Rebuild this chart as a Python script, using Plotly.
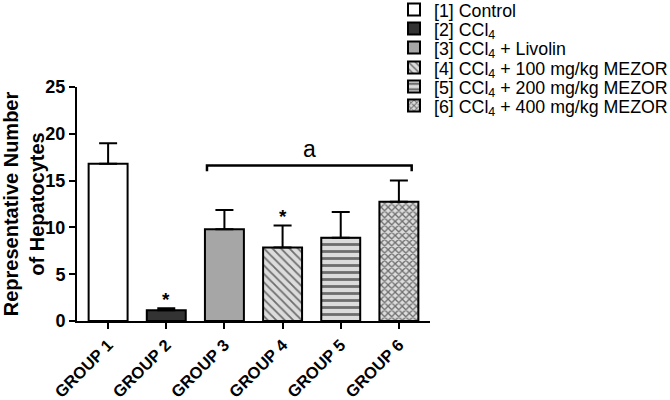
import plotly.graph_objects as go

groups = ["GROUP 1", "GROUP 2", "GROUP 3", "GROUP 4", "GROUP 5", "GROUP 6"]
means = [16.8, 1.15, 9.8, 7.85, 8.9, 12.75]
errors = [2.2, 0.2, 2.05, 2.35, 2.75, 2.25]
legend_names = [
    "[1] Control",
    "[2] CCl<sub>4</sub>",
    "[3] CCl<sub>4</sub> + Livolin",
    "[4] CCl<sub>4</sub> + 100 mg/kg MEZOR",
    "[5] CCl<sub>4</sub> + 200 mg/kg MEZOR",
    "[6] CCl<sub>4</sub> + 400 mg/kg MEZOR",
]
fills = ["#ffffff", "#333333", "#a6a6a6", "#dcdcdc", "#dcdcdc", "#dcdcdc"]
patterns = ["", "", "", "\\", "-", "x"]
pattern_sizes = [0, 0, 0, 6, 7, 5]
pattern_solidity = [0, 0, 0, 0.3, 0.4, 0.45]
star_groups = [1, 3]

FONT = "Arial, Liberation Sans, sans-serif"
W, H = 670, 400
legend_rows_px = [10, 29, 48, 68, 87, 106]

fig = go.Figure()
layout_legends = {}
for i, g in enumerate(groups):
    pat = dict(shape=patterns[i], fgcolor="#000000", bgcolor=fills[i],
               size=pattern_sizes[i], solidity=pattern_solidity[i],
               fillmode="overlay") if patterns[i] else dict(shape="")
    lname = "legend" if i == 0 else f"legend{i+1}"
    fig.add_trace(go.Bar(
        x=[g], y=[means[i]], name=legend_names[i], width=0.67, legend=lname,
        marker=dict(color=fills[i], line=dict(color="#000000", width=2), pattern=pat),
        error_y=dict(type="data", array=[errors[i]], arrayminus=[0], symmetric=False,
                     color="#000000", thickness=2, width=9),
    ))
    layout_legends[lname] = dict(
        xref="container", yref="container", x=394 / W, y=1 - legend_rows_px[i] / H,
        xanchor="left", yanchor="middle", font=dict(size=17.8, family=FONT, color="#000"),
        itemwidth=30, bgcolor="rgba(0,0,0,0)", borderwidth=0)

for gi in star_groups:
    fig.add_annotation(x=groups[gi], y=means[gi] + errors[gi] + 1.0, text="<b>*</b>",
                       showarrow=False, font=dict(size=19, family=FONT, color="#000"),
                       yanchor="middle")

# bracket over groups 3-6
bx0, bx1, by, bh = 1.7, 5.22, 16.6, 0.6
fig.add_shape(type="path", xref="x", yref="y",
              path=f"M {bx0} {by-bh} L {bx0} {by} L {bx1} {by} L {bx1} {by-bh}",
              line=dict(color="#000", width=2.5))
fig.add_annotation(x=(bx0 + bx1) / 2, y=by + 0.2, text="a", showarrow=False,
                   yanchor="bottom", font=dict(size=23, family=FONT, color="#000"))

fig.update_layout(
    width=W, height=H,
    margin=dict(l=77, r=240, t=87, b=79, autoexpand=False),
    paper_bgcolor="white", plot_bgcolor="white",
    barmode="overlay", showlegend=True,
    font=dict(family=FONT, color="#000"),
    xaxis=dict(type="category", categoryorder="array", categoryarray=groups,
               range=[-0.535, 5.535], showline=True, linecolor="#000", linewidth=2,
               ticks="outside", ticklen=6, tickwidth=2, tickcolor="#000",
               tickangle=-45, tickfont=dict(size=16.5, family=FONT, weight="bold"),
               showgrid=False, zeroline=False, automargin=False),
    yaxis=dict(range=[0, 25], tickvals=[0, 5, 10, 15, 20, 25], showline=True,
               linecolor="#000", linewidth=2, ticks="outside", ticklen=6, tickwidth=2,
               tickcolor="#000", tickfont=dict(size=18, family=FONT, weight="bold"),
               showgrid=False, zeroline=False, automargin=False,
               title=dict(text="Representative Number<br>of Hepatocytes",
                          font=dict(size=20, family=FONT, weight="bold"), standoff=3)),
    **layout_legends,
)

fig.write_html("out.html", config={"displayModeBar": False},
               post_script="document.body.style.margin='0';")
